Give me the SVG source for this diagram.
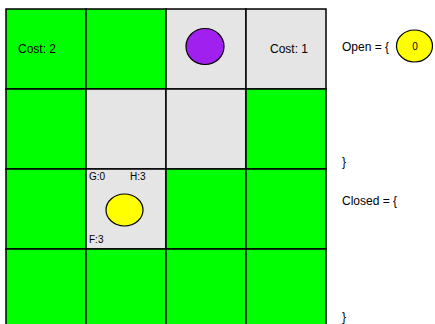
<svg xmlns="http://www.w3.org/2000/svg" width="435" height="324" viewBox="0 0 435 324">
<style>
.c{stroke:#000;stroke-width:1.5}
.g{fill:#00ff00}
.w{fill:#e5e5e5}
text{font-family:"Liberation Sans",Arial,sans-serif;fill:#000}
.t{font-size:12px}
.s{font-size:10px}
.n{stroke:#000;stroke-width:1.2}
</style>
<rect width="435" height="324" fill="#fff"/>
<g id="grid">
<rect class="c g" x="6" y="9" width="80" height="80"/>
<rect class="c g" x="86" y="9" width="80" height="80"/>
<rect class="c w" x="166" y="9" width="80" height="80"/>
<rect class="c w" x="246" y="9" width="80" height="80"/>
<rect class="c g" x="6" y="89" width="80" height="80"/>
<rect class="c w" x="86" y="89" width="80" height="80"/>
<rect class="c w" x="166" y="89" width="80" height="80"/>
<rect class="c g" x="246" y="89" width="80" height="80"/>
<rect class="c g" x="6" y="169" width="80" height="80"/>
<rect class="c w" x="86" y="169" width="80" height="80"/>
<rect class="c g" x="166" y="169" width="80" height="80"/>
<rect class="c g" x="246" y="169" width="80" height="80"/>
<rect class="c g" x="6" y="249" width="80" height="80"/>
<rect class="c g" x="86" y="249" width="80" height="80"/>
<rect class="c g" x="166" y="249" width="80" height="80"/>
<rect class="c g" x="246" y="249" width="80" height="80"/>
<text class="t" x="18" y="53">Cost: 2</text>
<text class="t" x="270" y="53">Cost: 1</text>
</g>
<g id="goal">
<ellipse class="n" cx="205" cy="46.5" rx="19" ry="18" fill="#a020f0"/>
</g>
<g id="start">
<ellipse class="n" cx="124.5" cy="210" rx="18.5" ry="16" fill="#ffff00"/>
<text class="s" x="89" y="180">G:0</text>
<text class="s" x="130" y="180">H:3</text>
<text class="s" x="89" y="243">F:3</text>
</g>
<g id="lists">
<text class="t" x="342" y="51">Open = {</text>
<ellipse class="n" cx="414.5" cy="46" rx="18" ry="16" fill="#ffff00"/>
<text class="s" x="415" y="50" text-anchor="middle">0</text>
<text class="t" x="342" y="166">}</text>
<text class="t" x="342" y="205">Closed = {</text>
<text class="t" x="342" y="321">}</text>
</g>
</svg>
